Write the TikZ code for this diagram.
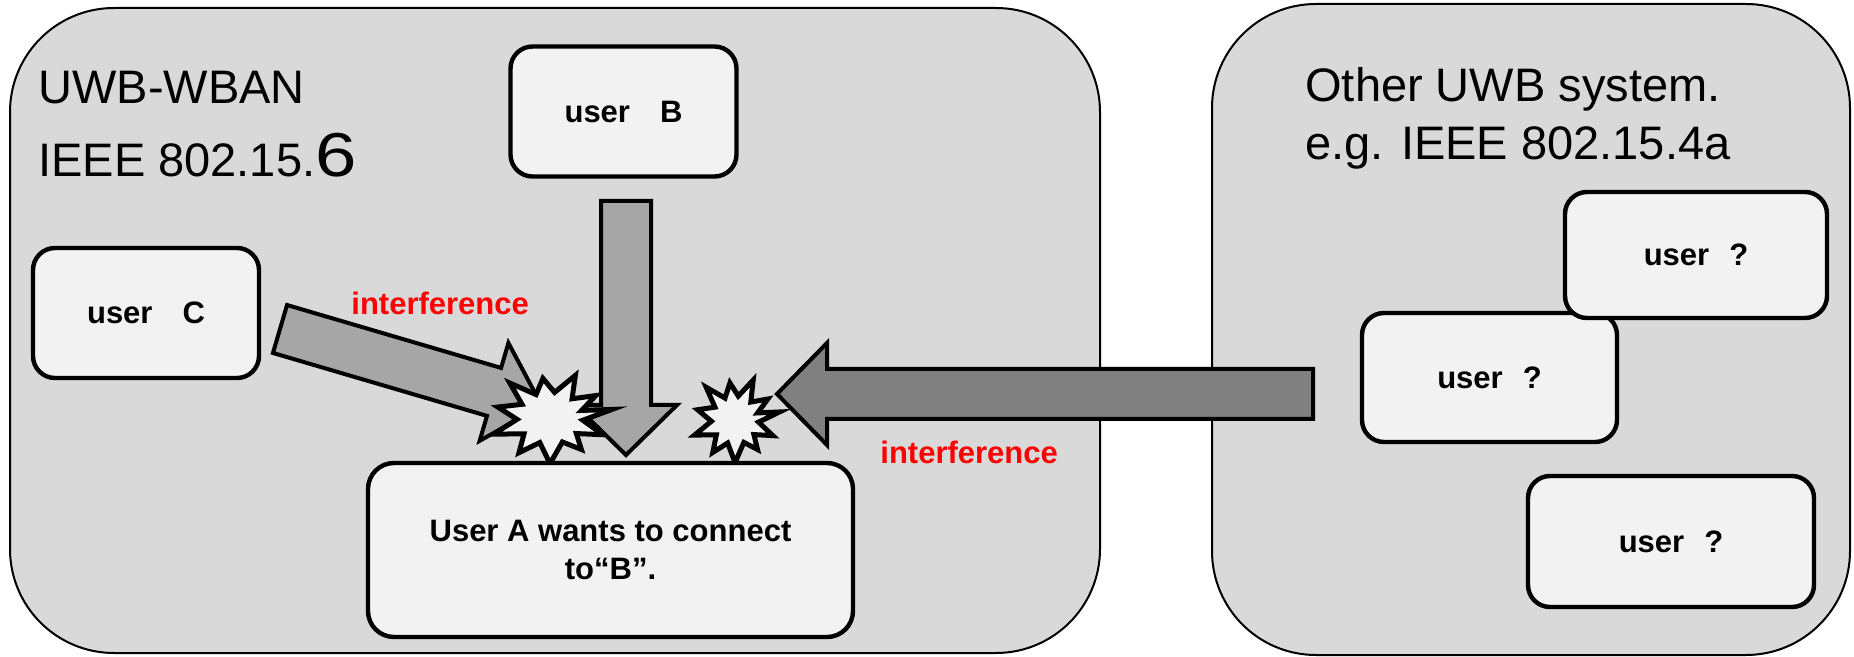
\documentclass[tikz,border=0pt]{standalone}
\usepackage{fontspec}
\setmainfont{Liberation Sans}
\usetikzlibrary{calc}
\definecolor{panel}{HTML}{D9D9D9}
\definecolor{boxfill}{HTML}{F2F2F2}
\definecolor{lightarrow}{HTML}{A6A6A6}
\definecolor{darkarrow}{HTML}{808080}
\tikzset{
  panelbox/.style={draw, line width=1pt, fill=panel, rounded corners=52pt},
  user/.style={draw, line width=2.2pt, rounded corners=11pt, fill=boxfill, align=center,
    font=\fontsize{15.5}{19}\selectfont\bfseries},
  bigtext/.style={inner sep=0pt, anchor=base west, font=\fontsize{23.5}{28}\selectfont},
  noise/.style={text=red, inner sep=0pt, anchor=base west, font=\fontsize{15.5}{19}\selectfont\bfseries},
  fatarrow/.style={draw, line width=2pt, line join=miter},
  burst/.style={draw, line width=2.5pt, fill=boxfill, line join=miter}
}
% block arrow from #1 to #2, filled with #3
\newcommand{\blockarrow}[3]{%
  \coordinate (h) at ($(#2)!25pt!(#1)$);
  \filldraw[fatarrow, fill=#3] ($(#1)!12.5pt!90:(#2)$) -- ($(h)!12.5pt!-90:(#1)$)
    -- ($(h)!25.5pt!-90:(#1)$) -- (#2) -- ($(h)!25.5pt!90:(#1)$)
    -- ($(h)!12.5pt!90:(#1)$) -- ($(#1)!12.5pt!-90:(#2)$) -- cycle;
}
% star burst at #1, size #2
\newcommand{\crash}[2]{%
  \begin{scope}[shift={#1}, #2]
  \filldraw[burst] plot coordinates {(-10:1.05) (5:.55) (22:.95) (37:.55) (52:.85) (68:.55)
    (90:.97) (108:.55) (125:.9) (142:.55) (160:1.0) (177:.55) (195:.9) (212:.55) (228:1.0)
    (245:.55) (262:.85) (278:.55) (295:1.0) (312:.55) (328:.9) (343:.55)} -- cycle;
  \end{scope}
}
\begin{document}
\begin{tikzpicture}[x=0.5pt, y=-0.5pt]
\useasboundingbox (0,0) rectangle (1854,657);
\draw[panelbox] (10,8) rectangle (1100,653);
\draw[panelbox] (1212,4) rectangle (1850,655);
\node[bigtext] (wban) at (38,104) {UWB-WBAN};
\node[bigtext] (ieee) at (38,177) {IEEE 802.15.{\fontsize{31}{31}\selectfont\scalebox{1.2}[1]{6}}};
\node[bigtext] (other) at (1305,102) {Other UWB system.};
\node[bigtext] (eg) at (1305,160) {e.g. IEEE 802.15.4a};

\node[user, minimum width=113pt, minimum height=65pt] (userB) at (623.5,111.5) {user\hspace{15pt}B};
\node[user, minimum width=113pt, minimum height=65pt] (userC) at (146,313) {user\hspace{15pt}C};
\node[user, minimum width=127.5pt, minimum height=64.5pt] (other1) at (1489.5,377.5) {user\hspace{10pt}?};
\node[user, minimum width=131pt, minimum height=63pt] (other2) at (1696,255) {user\hspace{10pt}?};
\node[user, minimum width=143pt, minimum height=65.5pt] (other3) at (1671,541.5) {user\hspace{10pt}?};

\node[noise] (noiseC) at (351,315) {interference};
\node[noise] (noiseX) at (880,464) {interference};

% arrows
\coordinate (bTail) at (626,201);
\coordinate (bTip) at (626,455);
\coordinate (cTail) at (280,329);
\coordinate (cTip) at (542,406);
\coordinate (xTail) at (1313,394);
\coordinate (xTip) at (777,394);
\blockarrow{bTail}{bTip}{lightarrow}
\blockarrow{cTail}{cTip}{lightarrow}
\blockarrow{xTail}{xTip}{darkarrow}

% collisions
\crash{(550,418)}{xscale=60, yscale=47}
\crash{(735,420)}{xscale=43, yscale=44}

\node[user, rounded corners=13pt, minimum width=242.5pt, minimum height=87pt] (userA) at (610.5,550)
  {User A wants to connect\\to“B”.};
\end{tikzpicture}
\end{document}
